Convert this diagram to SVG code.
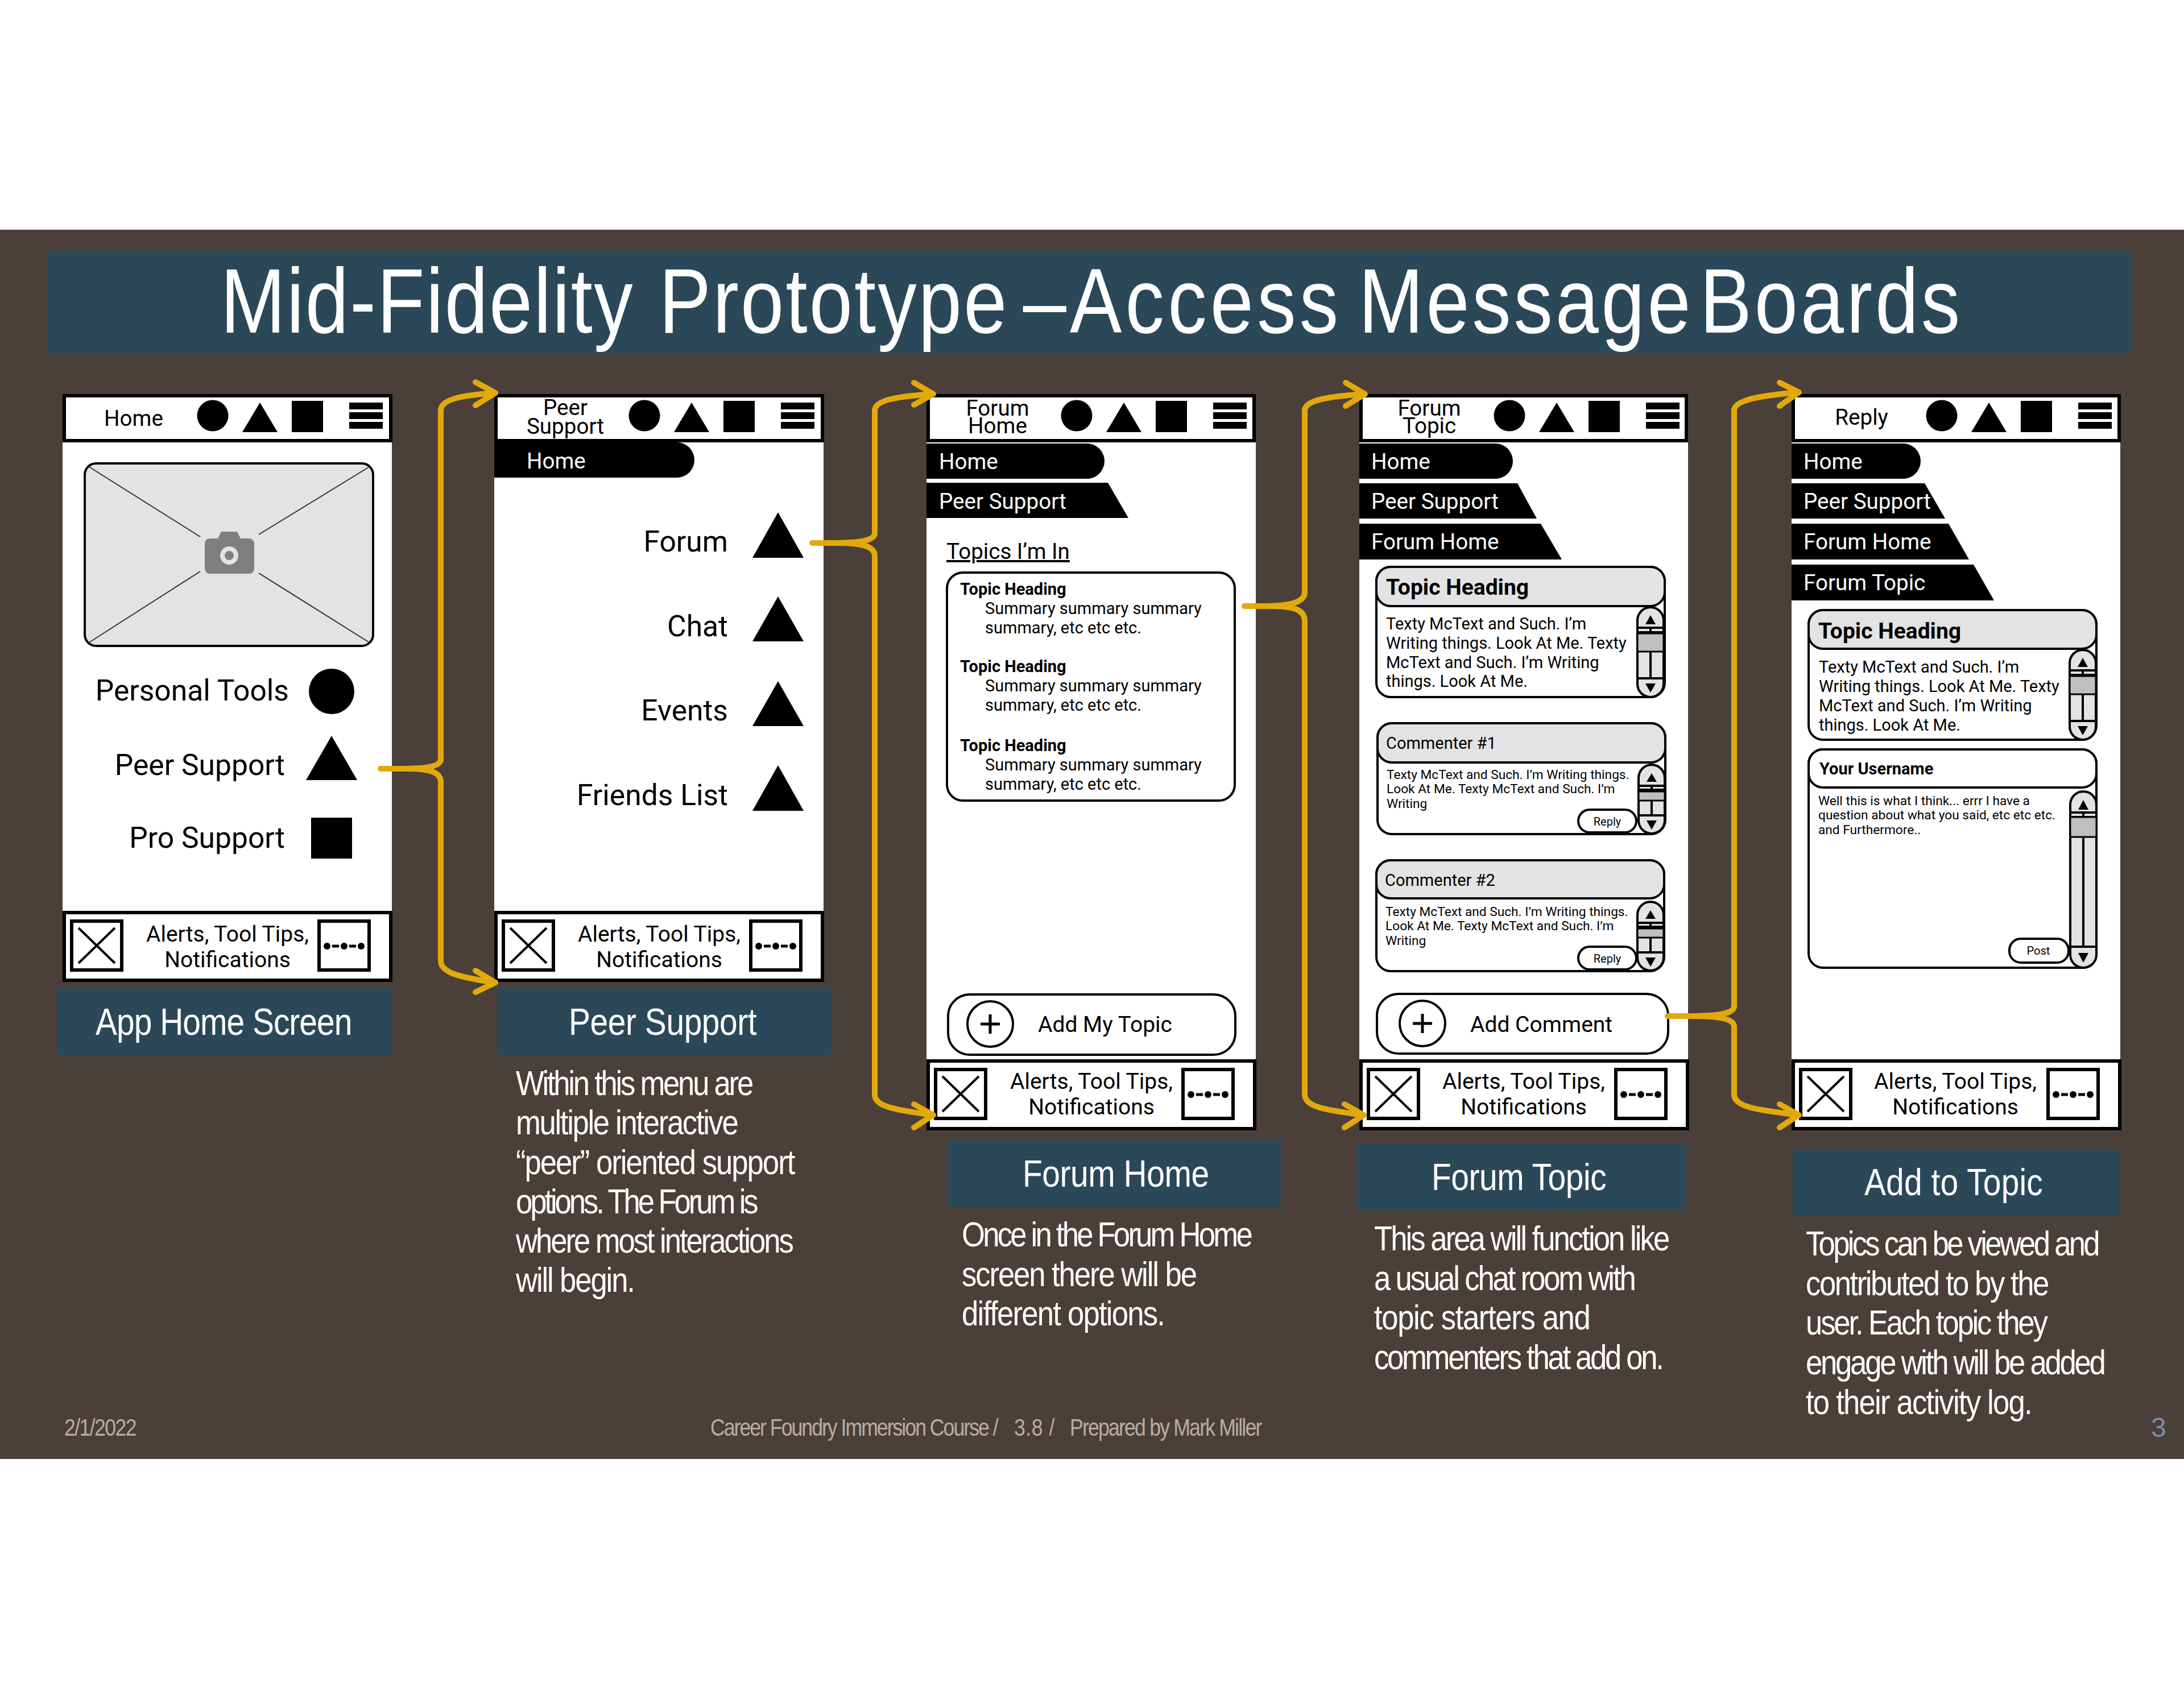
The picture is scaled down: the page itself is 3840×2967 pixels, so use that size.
<svg xmlns="http://www.w3.org/2000/svg" xmlns:xlink="http://www.w3.org/1999/xlink" width="3840" height="2967" viewBox="0 0 3840 2967">
<style>
text{font-family:Roboto,"Liberation Sans",sans-serif;fill:#000}
.l{font-family:"Liberation Sans",Arial,sans-serif;fill:#fff}
.t{font-size:161px}.cap{font-size:67px}.b{font-size:62px}
.f{font-family:"Liberation Sans",Arial,sans-serif;font-size:42px;fill:#b9ada3}
.h{font-size:38.6px}.ft{font-size:39px}.m{text-anchor:middle}.e{text-anchor:end}.w{fill:#fff}
.big{font-size:51.6px}.n{font-size:39px}.bd{font-weight:700}
.s{font-size:29px}.xs{font-size:22.7px}.r{font-size:20px}.c{font-size:29px}
.band{fill:#2b4858}.white{fill:#fff}
.frame{fill:#fff;stroke:#000;stroke-width:6}
.k{fill:#000}.ln{stroke:#000;fill:none;stroke-width:4}
.card{fill:#fff;stroke:#000;stroke-width:4}
.gray{fill:#e3e3e3;stroke:#000;stroke-width:4}
.arrow{fill:none;stroke:#e2a90c;stroke-width:10;stroke-linecap:round;stroke-linejoin:round}
</style>
<defs>
<g id="icons">
<circle class="k" cx="264" cy="731" r="27.5"/>
<polygon class="k" points="316,760 378,760 347,708"/>
<rect class="k" x="403" y="705" width="55" height="55"/>
<rect class="k" x="504" y="708" width="59" height="12"/>
<rect class="k" x="504" y="725" width="59" height="12"/>
<rect class="k" x="504" y="742" width="59" height="12"/>
</g>
<g id="footer">
<rect class="frame" x="3" y="1" width="574" height="119"/>
<rect x="16" y="16" width="88" height="86" fill="#fff" stroke="#000" stroke-width="6"/>
<path d="M28 28L92 90M92 28L28 90" class="ln"/>
<rect x="451" y="16" width="88" height="86" fill="#fff" stroke="#000" stroke-width="6"/>
<path d="M474 60H486M504 60H516" stroke="#000" stroke-width="5" fill="none"/>
<circle class="k" cx="465" cy="60" r="6"/><circle class="k" cx="495" cy="60" r="6"/><circle class="k" cx="525" cy="60" r="6"/>
</g>
<g id="scrollA">
<rect class="gray" x="0" y="0" width="46" height="158" rx="23"/>
<polygon class="k" points="23,14 14,30 32,30"/>
<path class="ln" d="M0 36H46M0 44H46M23 36V44M23 78V125M0 125H46" stroke-width="3"/>
<rect x="0" y="46" width="46" height="32" fill="#bfbfbf" stroke="#000" stroke-width="3"/>
<polygon class="k" points="14,134 32,134 23,150"/>
</g>
<g id="scrollB">
<rect class="gray" x="0" y="0" width="46" height="121" rx="23"/>
<polygon class="k" points="23,15 14,30 32,30"/>
<path class="ln" d="M0 37H46M0 44H46M23 37V44M23 63V89M0 89H46"/>
<rect x="0" y="47" width="46" height="16" fill="#bfbfbf" stroke="#000" stroke-width="3"/>
<polygon class="k" points="14,98 32,98 23,114"/>
</g>
<g id="scrollC">
<rect class="gray" x="0" y="0" width="46" height="310" rx="23"/>
<polygon class="k" points="23,15 14,32 32,32"/>
<path class="ln" d="M0 37H46M0 45H46M23 37V45M23 80V273M0 273H46"/>
<rect x="0" y="45" width="46" height="35" fill="#bfbfbf" stroke="#000" stroke-width="3"/>
<polygon class="k" points="14,284 32,284 23,301"/>
</g>
<g id="plus">
<circle cx="0" cy="0" r="40" fill="#fff" stroke="#000" stroke-width="4"/>
<path d="M-17 0H17M0-17V17" stroke="#000" stroke-width="5"/>
</g>
</defs>

<rect width="3840" height="2967" fill="#fff"/>
<rect x="0" y="404" width="3840" height="2162" fill="#4a3f39"/>

<g id="title">
<rect class="band" x="83" y="443" width="3664" height="178"/>
<text class="l t" transform="matrix(.85 0 0 1 398 585)"><tspan x="-12" letter-spacing="2.7">Mid-Fidelity </tspan><tspan x="895" letter-spacing="3.8">Prototype </tspan><tspan x="1648" letter-spacing="7.3">–Access </tspan><tspan x="2342" letter-spacing="5.6">Message </tspan><tspan x="3048" letter-spacing="5.6">Boards</tspan></text>
</g>

<g id="phone-home">
<rect class="white" x="110" y="693" width="579" height="1031"/>
<rect class="frame" x="113" y="696" width="574" height="79"/>
<use href="#icons" x="110"/>
<text class="h m" x="235" y="749">Home</text>
<rect x="149" y="815" width="507" height="321" rx="20" fill="#e3e3e3" stroke="#000" stroke-width="4"/>
<path d="M155 820L352 944M651 820L455 940M155 1131L352 1005M651 1131L455 1008" stroke="#333" stroke-width="2" fill="none"/>
<path d="M360 957q0-10 10-10h13l6-12h28l6 12h14q10 0 10 10v42q0 10-10 10h-67q-10 0-10-10z" fill="#7f7f7f"/>
<circle cx="403" cy="977" r="12" fill="#7f7f7f" stroke="#e3e3e3" stroke-width="8"/>
<text class="big e" x="508" y="1232">Personal Tools</text>
<circle class="k" cx="583" cy="1216" r="40"/>
<text class="big e" x="501" y="1363">Peer Support</text>
<polygon class="k" points="538,1372 628,1372 583,1294"/>
<text class="big e" x="501" y="1491">Pro Support</text>
<rect class="k" x="547" y="1438" width="72" height="72"/>
<use href="#footer" x="110" y="1604"/>
<text class="ft m" x="400" y="1656">Alerts, Tool Tips,</text>
<text class="ft m" x="400" y="1701">Notifications</text>
</g>

<g id="phone-peer">
<rect class="white" x="869" y="693" width="579" height="1031"/>
<rect class="frame" x="872" y="696" width="574" height="79"/>
<use href="#icons" x="869"/>
<text class="h m" x="994" y="730">Peer</text>
<text class="h m" x="994" y="763">Support</text>
<path class="k" d="M869 778H1190a31 31 0 0 1 0 62H869z"/>
<text class="h w" x="926" y="824">Home</text>
<text class="big e" x="1280" y="970">Forum</text>
<polygon class="k" points="1323,981 1413,981 1368,901"/>
<text class="big e" x="1280" y="1119">Chat</text>
<polygon class="k" points="1323,1128 1413,1128 1368,1049"/>
<text class="big e" x="1280" y="1267">Events</text>
<polygon class="k" points="1323,1277 1413,1277 1368,1198"/>
<text class="big e" x="1280" y="1416">Friends List</text>
<polygon class="k" points="1323,1426 1413,1426 1368,1346"/>
<use href="#footer" x="869" y="1604"/>
<text class="ft m" x="1159" y="1656">Alerts, Tool Tips,</text>
<text class="ft m" x="1159" y="1701">Notifications</text>
</g>

<g id="phone-forum-home">
<rect class="white" x="1629" y="693" width="579" height="1290"/>
<rect class="frame" x="1632" y="696" width="573" height="79"/>
<use href="#icons" x="1629"/>
<text class="h m" x="1754" y="731">Forum</text>
<text class="h m" x="1754" y="762">Home</text>
<path class="k" d="M1629 780H1911a31 31 0 0 1 0 62H1629z"/>
<text class="h w" x="1651" y="825">Home</text>
<polygon class="k" points="1629,849 1948,849 1984,911 1629,911"/>
<text class="h w" x="1651" y="895">Peer Support</text>
<text class="h" x="1664" y="983" text-decoration="underline">Topics I’m In</text>
<rect class="card" x="1665" y="1007" width="506" height="401" rx="28"/>
<text class="s bd" x="1688" y="1046">Topic Heading</text>
<text class="s" x="1732" y="1080">Summary summary summary</text>
<text class="s" x="1732" y="1114">summary, etc etc etc.</text>
<text class="s bd" x="1688" y="1182">Topic Heading</text>
<text class="s" x="1732" y="1216">Summary summary summary</text>
<text class="s" x="1732" y="1250">summary, etc etc etc.</text>
<text class="s bd" x="1688" y="1321">Topic Heading</text>
<text class="s" x="1732" y="1355">Summary summary summary</text>
<text class="s" x="1732" y="1389">summary, etc etc etc.</text>
<rect class="card" x="1667" y="1749" width="505" height="106" rx="38"/>
<use href="#plus" x="1741" y="1801"/>
<text class="n" x="1825" y="1815">Add My Topic</text>
<use href="#footer" x="1629" y="1865"/>
<text class="ft m" x="1919" y="1915">Alerts, Tool Tips,</text>
<text class="ft m" x="1919" y="1960">Notifications</text>
</g>

<g id="phone-forum-topic">
<rect class="white" x="2390" y="693" width="578" height="1290"/>
<rect class="frame" x="2393" y="696" width="572" height="79"/>
<use href="#icons" x="2390"/>
<text class="h m" x="2513" y="731">Forum</text>
<text class="h m" x="2513" y="762">Topic</text>
<path class="k" d="M2390 780H2629a31 31 0 0 1 0 62H2390z"/>
<text class="h w" x="2411" y="825">Home</text>
<polygon class="k" points="2390,850 2668,850 2702,912 2390,912"/>
<text class="h w" x="2411" y="895">Peer Support</text>
<polygon class="k" points="2390,921 2709,921 2746,984 2390,984"/>
<text class="h w" x="2411" y="966">Forum Home</text>

<rect class="card" x="2420" y="997" width="507" height="229" rx="25"/>
<rect class="gray" x="2420" y="997" width="507" height="69" rx="25"/>
<text class="n bd" x="2437" y="1046">Topic Heading</text>
<text class="s" x="2437" y="1107">Texty McText and Such. I’m</text>
<text class="s" x="2437" y="1141">Writing things. Look At Me. Texty</text>
<text class="s" x="2437" y="1175">McText and Such. I’m Writing</text>
<text class="s" x="2437" y="1208">things. Look At Me.</text>
<use href="#scrollA" x="2879" y="1068"/>

<rect class="card" x="2422" y="1272" width="506" height="195" rx="25"/>
<rect class="gray" x="2422" y="1272" width="506" height="69" rx="25"/>
<text class="c" x="2437" y="1317">Commenter #1</text>
<text class="xs" x="2438" y="1370">Texty McText and Such. I’m Writing things.</text>
<text class="xs" x="2438" y="1395">Look At Me. Texty McText and Such. I’m</text>
<text class="xs" x="2438" y="1421">Writing</text>
<use href="#scrollB" x="2881" y="1345"/>
<rect class="card" x="2775" y="1424" width="102" height="40" rx="20"/>
<text class="r m" x="2826" y="1452">Reply</text>

<rect class="card" x="2420" y="1513" width="506" height="195" rx="25"/>
<rect class="gray" x="2420" y="1513" width="506" height="67" rx="25"/>
<text class="c" x="2435" y="1558">Commenter #2</text>
<text class="xs" x="2436" y="1611">Texty McText and Such. I’m Writing things.</text>
<text class="xs" x="2436" y="1636">Look At Me. Texty McText and Such. I’m</text>
<text class="xs" x="2436" y="1662">Writing</text>
<use href="#scrollB" x="2879" y="1586"/>
<rect class="card" x="2775" y="1665" width="102" height="40" rx="20"/>
<text class="r m" x="2826" y="1693">Reply</text>

<rect class="card" x="2421" y="1748" width="512" height="105" rx="38"/>
<use href="#plus" x="2501" y="1800"/>
<text class="n" x="2585" y="1815">Add Comment</text>
<use href="#footer" x="2390" y="1865"/>
<text class="ft m" x="2679" y="1915">Alerts, Tool Tips,</text>
<text class="ft m" x="2679" y="1960">Notifications</text>
</g>

<g id="phone-reply">
<rect class="white" x="3150" y="693" width="578" height="1290"/>
<rect class="frame" x="3153" y="696" width="573" height="79"/>
<use href="#icons" x="3150"/>
<text class="h m" x="3273" y="747">Reply</text>
<path class="k" d="M3150 780H3346a31 31 0 0 1 0 62H3150z"/>
<text class="h w" x="3171" y="825">Home</text>
<polygon class="k" points="3150,850 3384,850 3420,912 3150,912"/>
<text class="h w" x="3171" y="895">Peer Support</text>
<polygon class="k" points="3150,921 3426,921 3462,984 3150,984"/>
<text class="h w" x="3171" y="966">Forum Home</text>
<polygon class="k" points="3150,993 3470,993 3506,1056 3150,1056"/>
<text class="h w" x="3171" y="1038">Forum Topic</text>

<rect class="card" x="3180" y="1073" width="506" height="228" rx="25"/>
<rect class="gray" x="3180" y="1073" width="506" height="68" rx="25"/>
<text class="n bd" x="3197" y="1123">Topic Heading</text>
<text class="s" x="3198" y="1183">Texty McText and Such. I’m</text>
<text class="s" x="3198" y="1217">Writing things. Look At Me. Texty</text>
<text class="s" x="3198" y="1251">McText and Such. I’m Writing</text>
<text class="s" x="3198" y="1285">things. Look At Me.</text>
<use href="#scrollA" x="3639" y="1143"/>

<rect class="card" x="3180" y="1318" width="506" height="384" rx="25"/>
<rect class="card" x="3180" y="1318" width="506" height="67" rx="25"/>
<text class="c bd" x="3199" y="1362">Your Username</text>
<text class="xs" x="3197" y="1416">Well this is what I think... errr I have a</text>
<text class="xs" x="3197" y="1441">question about what you said, etc etc etc.</text>
<text class="xs" x="3197" y="1467">and Furthermore..</text>
<use href="#scrollC" x="3640" y="1392"/>
<rect class="card" x="3533" y="1651" width="104" height="42" rx="20"/>
<text class="r m" x="3584" y="1679">Post</text>
<use href="#footer" x="3150" y="1865"/>
<text class="ft m" x="3438" y="1915">Alerts, Tool Tips,</text>
<text class="ft m" x="3438" y="1960">Notifications</text>
</g>

<g id="caption-home">
<rect class="band" x="101" y="1738" width="589" height="118"/>
<text class="l cap" transform="matrix(.85 0 0 1 168 1820)" textLength="531" lengthAdjust="spacing">App Home Screen</text>
</g>
<g id="caption-peer">
<rect class="band" x="874" y="1738" width="588" height="118"/>
<text class="l cap" transform="matrix(.85 0 0 1 1000 1820)" textLength="389" lengthAdjust="spacing">Peer Support</text>
<text class="l b" transform="matrix(.85 0 0 1 907 1926)" textLength="492" lengthAdjust="spacing">Within this menu are</text>
<text class="l b" transform="matrix(.85 0 0 1 907 1995)" textLength="461" lengthAdjust="spacing">multiple interactive</text>
<text class="l b" transform="matrix(.85 0 0 1 907 2065)" textLength="578" lengthAdjust="spacing">“peer” oriented support</text>
<text class="l b" transform="matrix(.85 0 0 1 907 2134)" textLength="502" lengthAdjust="spacing">options. The Forum is</text>
<text class="l b" transform="matrix(.85 0 0 1 907 2203)" textLength="575" lengthAdjust="spacing">where most interactions</text>
<text class="l b" transform="matrix(.85 0 0 1 907 2272)" textLength="247" lengthAdjust="spacing">will begin.</text>
</g>
<g id="caption-forum-home">
<rect class="band" x="1665" y="2005" width="587" height="117"/>
<text class="l cap" transform="matrix(.85 0 0 1 1798 2087)" textLength="386" lengthAdjust="spacing">Forum Home</text>
<text class="l b" transform="matrix(.85 0 0 1 1691 2192)" textLength="602" lengthAdjust="spacing">Once in the Forum Home</text>
<text class="l b" transform="matrix(.85 0 0 1 1691 2262)" textLength="487" lengthAdjust="spacing">screen there will be</text>
<text class="l b" transform="matrix(.85 0 0 1 1691 2331)" textLength="421" lengthAdjust="spacing">different options.</text>
</g>
<g id="caption-forum-topic">
<rect class="band" x="2385" y="2011" width="580" height="118"/>
<text class="l cap" transform="matrix(.85 0 0 1 2517 2093)" textLength="362" lengthAdjust="spacing">Forum Topic</text>
<text class="l b" transform="matrix(.85 0 0 1 2416 2199)" textLength="612" lengthAdjust="spacing">This area will function like</text>
<text class="l b" transform="matrix(.85 0 0 1 2416 2269)" textLength="542" lengthAdjust="spacing">a usual chat room with</text>
<text class="l b" transform="matrix(.85 0 0 1 2416 2338)" textLength="448" lengthAdjust="spacing">topic starters and</text>
<text class="l b" transform="matrix(.85 0 0 1 2416 2408)" textLength="600" lengthAdjust="spacing">commenters that add on.</text>
</g>
<g id="caption-add">
<rect class="band" x="3152" y="2021" width="573" height="117"/>
<text class="l cap" transform="matrix(.85 0 0 1 3278 2102)" textLength="369" lengthAdjust="spacing">Add to Topic</text>
<text class="l b" transform="matrix(.85 0 0 1 3175 2208)" textLength="609" lengthAdjust="spacing">Topics can be viewed and</text>
<text class="l b" transform="matrix(.85 0 0 1 3175 2278)" textLength="504" lengthAdjust="spacing">contributed to by the</text>
<text class="l b" transform="matrix(.85 0 0 1 3175 2347)" textLength="501" lengthAdjust="spacing">user. Each topic they</text>
<text class="l b" transform="matrix(.85 0 0 1 3175 2417)" textLength="621" lengthAdjust="spacing">engage with will be added</text>
<text class="l b" transform="matrix(.85 0 0 1 3175 2487)" textLength="469" lengthAdjust="spacing">to their activity log.</text>
</g>

<g id="slide-footer">
<text class="f" transform="matrix(.85 0 0 1 113 2525)" textLength="150" lengthAdjust="spacing">2/1/2022</text>
<text class="f" transform="matrix(.85 0 0 1 1249 2525)" textLength="596" lengthAdjust="spacing">Career Foundry Immersion Course /</text>
<text class="f" transform="matrix(.85 0 0 1 1783 2525)" textLength="84" lengthAdjust="spacing">3.8 /</text>
<text class="f" transform="matrix(.85 0 0 1 1881 2525)" textLength="398" lengthAdjust="spacing">Prepared by Mark Miller</text>
<text class="f" x="3782" y="2527" style="font-size:48px;fill:#7b8ea5">3</text>
</g>

<g id="connectors">
<path class="arrow" d="M669 1352C715 1352 775 1355 775 1335V722C775 700 820 695 868 691M715 1352C760 1352 775 1360 775 1375V1690C775 1715 825 1720 868 1728"/>
<path class="arrow" d="M836 672L871 691L836 713M836 1707L871 1728L836 1745"/>
<path class="arrow" d="M1428 955C1470 955 1538 958 1538 938V722C1538 702 1585 697 1637 693M1470 955C1520 955 1538 962 1538 978V1925C1538 1950 1590 1953 1637 1961"/>
<path class="arrow" d="M1607 673L1641 693L1607 712M1607 1942L1641 1961L1607 1983"/>
<path class="arrow" d="M2188 1066C2230 1066 2294 1069 2294 1042V722C2294 702 2345 697 2396 693M2230 1066C2275 1066 2294 1072 2294 1092V1925C2294 1950 2345 1953 2394 1961"/>
<path class="arrow" d="M2366 673L2400 693L2366 714M2364 1942L2398 1961L2364 1983"/>
<path class="arrow" d="M2932 1787C2975 1787 3049 1790 3049 1770V722C3049 702 3105 695 3160 690M2975 1787C3025 1787 3049 1792 3049 1806V1925C3049 1950 3105 1953 3160 1961"/>
<path class="arrow" d="M3129 673L3163 690L3129 714M3129 1942L3163 1961L3129 1983"/>
</g>
</svg>
